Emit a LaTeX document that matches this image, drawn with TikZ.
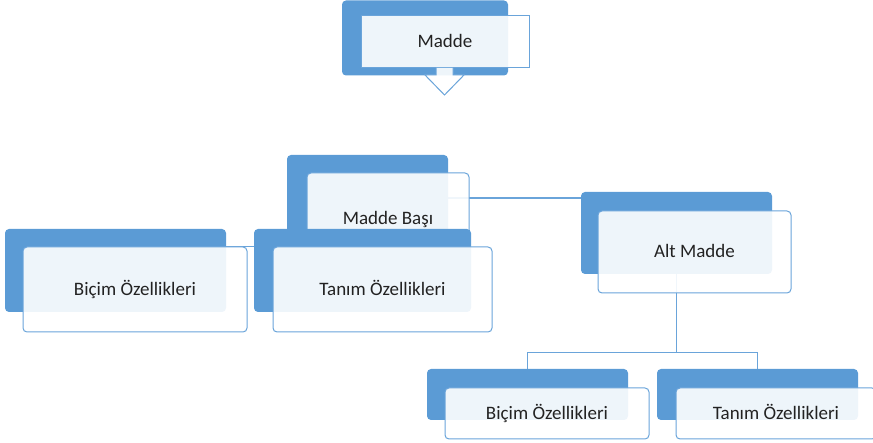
\documentclass[tikz,border=0pt]{standalone}
\usepackage{fontspec}
\setmainfont{Carlito}
\definecolor{sablue}{HTML}{5B9BD5}
\definecolor{sabord}{HTML}{6AA4DA}
\definecolor{satext}{HTML}{222222}
\pgfdeclarelayer{bg}
\pgfsetlayers{bg,main}
\tikzset{
  bluebox/.style={fill=sablue, draw=none, rounded corners=4pt, inner sep=0pt},
  whitebox/.style={fill=white, fill opacity=0.9, text opacity=1, draw=sabord, line width=1pt,
    rounded corners=4pt, inner sep=0pt, text=satext, font=\fontsize{19}{21}\selectfont,
    text height=12pt, text depth=0pt},
  conn/.style={draw=sabord, line width=1.2pt}
}
\begin{document}
\begin{tikzpicture}[x=1pt,y=-1pt]
\useasboundingbox (0,0) rectangle (873,443);
\clip (0,0) rectangle (873,443);
% top: Madde
\node[bluebox, minimum width=166pt, minimum height=75pt] (mB) at (425,38) {};
\node[whitebox, rounded corners=0pt, minimum width=168pt, minimum height=52pt] (mW) at (445,42) {Madde};
\draw[fill=white, fill opacity=0.9, draw=sabord, line width=1pt, line join=miter]
  (436,68) -- (436,75) -- (425,75) -- (444.5,95) -- (464,75) -- (453,75) -- (453,68);
% Madde Basi
\node[bluebox, minimum width=161pt, minimum height=83pt] (mbB) at (367.5,196.5) {};
\node[whitebox, minimum width=162pt, minimum height=92pt] (mbW) at (388,219) {Madde Başı};
% left children
\node[bluebox, minimum width=221pt, minimum height=83pt] (b1B) at (115.5,270.5) {};
\node[whitebox, minimum width=224pt, minimum height=85pt] (b1W) at (135,289.5) {Biçim Özellikleri};
\node[bluebox, minimum width=217pt, minimum height=83pt] (t1B) at (362.5,270.5) {};
\node[whitebox, minimum width=219pt, minimum height=85pt] (t1W) at (382.5,289.5) {Tanım Özellikleri};
% Alt Madde
\node[bluebox, minimum width=191pt, minimum height=82pt] (amB) at (676.5,233) {};
\node[whitebox, minimum width=193pt, minimum height=82pt] (amW) at (694.5,252) {Alt Madde};
% bottom children
\node[bluebox, minimum width=201pt, minimum height=51pt] (b2B) at (527.5,394.5) {};
\node[whitebox, minimum width=204pt, minimum height=51pt] (b2W) at (547,413.5) {Biçim Özellikleri};
\node[bluebox, minimum width=201pt, minimum height=51pt] (t2B) at (757.5,394.5) {};
\node[whitebox, minimum width=200pt, minimum height=51pt] (t2W) at (776,413.5) {Tanım Özellikleri};
% connectors behind
\coordinate (mbc) at ([yshift=-1.5pt]mbB.east);
\begin{pgfonlayer}{bg}
\draw[conn] (mbc) -- (amB.west |- mbc);
\draw[conn] (b1B.east |- t1W.north) -- (t1B.west |- t1W.north);
\draw[conn] (amB.south) -- ++(0,78) coordinate (split) -| (b2B.north);
\draw[conn] (split) -| (t2B.north);
\end{pgfonlayer}
\end{tikzpicture}
\end{document}
